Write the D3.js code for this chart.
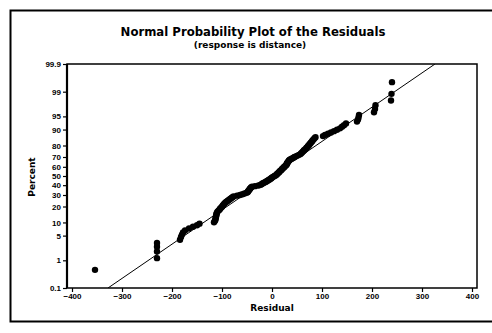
<!DOCTYPE html>
<html>
<head>
<meta charset="utf-8">
<script src="https://cdn.jsdelivr.net/npm/d3@7"></script>
<style>
  html, body { margin: 0; padding: 0; background: #fff; }
  svg { display: block; font-family: "DejaVu Sans", sans-serif; }
</style>
</head>
<body>
<svg id="chart" width="492" height="333"></svg>
<script>
// Ordered residuals (response is distance)
const residuals = [
  -354, -230, -230, -230, -230, -184, -182, -180, -178, -174,
  -166, -158, -150, -145, -116, -114, -113, -113, -112, -112,
  -111, -111, -110, -109, -107, -105, -104, -102, -100, -99,
  -98, -96, -95, -93, -91, -89, -87, -85, -83, -81,
  -79, -77, -70, -64, -59, -55, -51, -49, -48, -47,
  -46, -45, -44, -43, -42, -40, -34, -27, -23, -21,
  -19, -17, -14, -12, -10, -8, -6, -4, -2, -1,
  1, 3, 5, 7, 9, 10, 11, 13, 14, 15,
  16, 18, 19, 20, 21, 23, 24, 25, 27, 28,
  29, 30, 30, 31, 32, 33, 34, 35, 37, 40,
  43, 45, 48, 51, 54, 57, 58, 60, 61, 63,
  64, 66, 68, 69, 71, 72, 74, 75, 77, 78,
  80, 81, 83, 85, 87, 102, 106, 112, 118, 124,
  130, 136, 140, 144, 148, 170, 172, 173, 174, 204,
  206, 207, 238, 239, 240
];

// Fitted normal reference line, given at the two ends of the percent scale
const fitPercent = [0.1, 99.9];
const fitResidual = [-328, 326];

const percentTicks = [0.1, 1, 5, 10, 20, 30, 40, 50, 60, 70, 80, 90, 95, 99, 99.9];
const residualTicks = [-400, -300, -200, -100, 0, 100, 200, 300, 400];

const titleText = "Normal Probability Plot of the Residuals";
const subtitleText = "(response is distance)";
const xLabel = "Residual";
const yLabel = "Percent";

// Standard normal quantile function (Acklam's rational approximation)
function probit(p) {
  const a = [-3.969683028665376e+01, 2.209460984245205e+02, -2.759285104469687e+02,
             1.383577518672690e+02, -3.066479806614716e+01, 2.506628277459239e+00];
  const b = [-5.447609879822406e+01, 1.615858368580409e+02, -1.556989798598866e+02,
             6.680131188771972e+01, -1.328068155288572e+01];
  const c = [-7.784894002430293e-03, -3.223964580411365e-01, -2.400758277161838e+00,
             -2.549732539343734e+00, 4.374664141464968e+00, 2.938163982698783e+00];
  const d = [7.784695709041462e-03, 3.224671290700398e-01, 2.445134137142996e+00,
             3.754408661907416e+00];
  const pl = 0.02425, ph = 1 - pl;
  let q, r;
  if (p < pl) {
    q = Math.sqrt(-2 * Math.log(p));
    return (((((c[0]*q+c[1])*q+c[2])*q+c[3])*q+c[4])*q+c[5]) / ((((d[0]*q+d[1])*q+d[2])*q+d[3])*q+1);
  }
  if (p <= ph) {
    q = p - 0.5; r = q * q;
    return (((((a[0]*r+a[1])*r+a[2])*r+a[3])*r+a[4])*r+a[5])*q / (((((b[0]*r+b[1])*r+b[2])*r+b[3])*r+b[4])*r+1);
  }
  q = Math.sqrt(-2 * Math.log(1 - p));
  return -(((((c[0]*q+c[1])*q+c[2])*q+c[3])*q+c[4])*q+c[5]) / ((((d[0]*q+d[1])*q+d[2])*q+d[3])*q+1);
}

const svg = d3.select("#chart");

// Plot area
const plotLeft = 67, plotRight = 477, plotTop = 64, plotBottom = 288;

const x = d3.scaleLinear().domain([-410, 410]).range([plotLeft, plotRight]);
// Normal-probability scale: percent -> z -> pixel
const zScale = d3.scaleLinear().domain([probit(0.001), probit(0.999)]).range([plotBottom, plotTop]);
const y = pct => zScale(probit(pct / 100));

// Outer frame
svg.append("rect")
  .attr("x", 10.5).attr("y", 10.5)
  .attr("width", 490).attr("height", 311)
  .attr("fill", "none").attr("stroke", "#000").attr("stroke-width", 2);

// Titles
svg.append("text")
  .attr("x", 253).attr("y", 36)
  .attr("text-anchor", "middle")
  .attr("font-size", 11.7).attr("font-weight", "bold")
  .text(titleText);
svg.append("text")
  .attr("x", 250).attr("y", 47.5)
  .attr("text-anchor", "middle")
  .attr("font-size", 9).attr("font-weight", "bold")
  .text(subtitleText);

// Axes
const xAxis = d3.axisBottom(x).tickValues(residualTicks).tickSize(4).tickPadding(1)
  .tickFormat(d3.format("d"));
const gx = svg.append("g").attr("transform", `translate(0,${plotBottom})`).call(xAxis);
gx.select(".domain").remove();

const yAxis = d3.axisLeft(zScale)
  .tickValues(percentTicks.map(p => probit(p / 100)))
  .tickFormat((d, i) => String(percentTicks[i]))
  .tickSize(4).tickPadding(2);
const gy = svg.append("g").attr("transform", `translate(${plotLeft},0)`).call(yAxis);
gy.select(".domain").remove();

[gx, gy].forEach(g => {
  g.selectAll("text")
    .attr("font-size", 8).attr("font-weight", "bold")
    .attr("font-family", "'Liberation Sans', Arial, sans-serif").attr("fill", "#000");
  g.selectAll("line").attr("stroke", "#000").attr("stroke-width", 1.2);
});

// Plot frame
svg.append("rect")
  .attr("x", plotLeft).attr("y", plotTop)
  .attr("width", plotRight - plotLeft).attr("height", plotBottom - plotTop)
  .attr("fill", "none").attr("stroke", "#000").attr("stroke-width", 1.5);
svg.append("line")
  .attr("x1", plotLeft).attr("x2", plotLeft)
  .attr("y1", plotTop).attr("y2", plotBottom)
  .attr("stroke", "#000").attr("stroke-width", 2.2);

// Axis labels
svg.append("text")
  .attr("x", x(0)).attr("y", 311)
  .attr("text-anchor", "middle")
  .attr("font-size", 9).attr("font-weight", "bold")
  .text(xLabel);
svg.append("text")
  .attr("transform", `translate(35,177) rotate(-90)`)
  .attr("text-anchor", "middle")
  .attr("font-size", 9).attr("font-weight", "bold")
  .text(yLabel);

// Clip to plot area
svg.append("clipPath").attr("id", "plot-clip")
  .append("rect").attr("x", plotLeft).attr("y", plotTop)
  .attr("width", plotRight - plotLeft).attr("height", plotBottom - plotTop);

const plot = svg.append("g").attr("clip-path", "url(#plot-clip)");

// Fitted line across the percent range
const fitLine = d3.line().x(d => x(d[0])).y(d => y(d[1]));
plot.append("path")
  .datum(fitPercent.map((p, i) => [fitResidual[i], p]))
  .attr("d", fitLine)
  .attr("fill", "none").attr("stroke", "#000").attr("stroke-width", 1);

// Points at median-rank plotting positions
const n = residuals.length;
const pts = residuals.slice().sort((a, b) => a - b)
  .map((r, i) => ({ r, pct: 100 * (i + 1 - 0.3) / (n + 0.4) }));

svg.append("g").selectAll("circle")
  .data(pts).join("circle")
  .attr("cx", d => x(d.r))
  .attr("cy", d => y(d.pct))
  .attr("r", 3.2)
  .attr("fill", "#000");
</script>
</body>
</html>
